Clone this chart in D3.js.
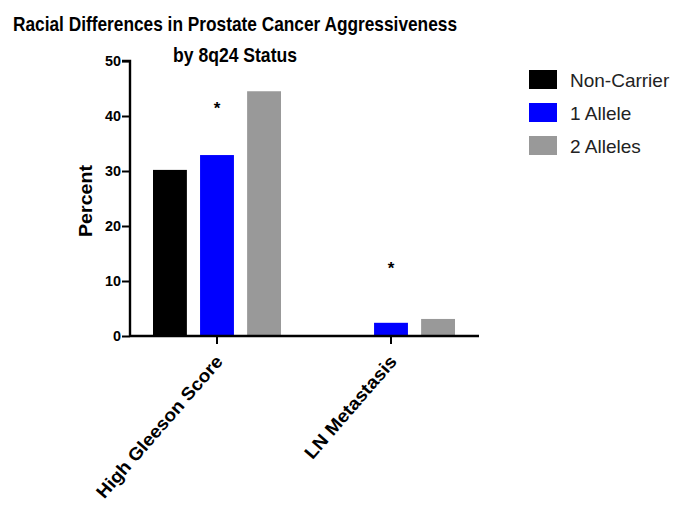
<!DOCTYPE html>
<html><head><meta charset="utf-8">
<script src="https://cdn.jsdelivr.net/npm/d3@7"></script>
<style>body{margin:0;background:#fff}</style>
</head><body>
<script>
const categories = ["High Gleeson Score", "LN Metastasis"];
const seriesNames = ["Non-Carrier", "1 Allele", "2 Alleles"];
const nonCarrier = [30.2, 0];
const oneAllele = [32.9, 2.4];
const twoAlleles = [44.5, 3.1];
const starValues = [42, 13];
const yTicks = [0, 10, 20, 30, 40, 50];
const colors = ["#000000", "#0000ff", "#999999"];

const W = 675, H = 505;
const svg = d3.select("body").append("svg").attr("width", W).attr("height", H);
const font = "'Liberation Sans', Arial, sans-serif";

const x = d3.scaleBand().domain(categories).range([130, 478]).paddingInner(0).paddingOuter(0);
const y = d3.scaleLinear().domain([0, 50]).range([336, 61]);
const xs = d3.scaleBand().domain(seriesNames).range([-64, 64]).paddingInner(0.28);

const series = [nonCarrier, oneAllele, twoAlleles];
categories.forEach((c, ci) => {
  const g = svg.append("g").attr("transform", `translate(${x(c) + x.bandwidth() / 2},0)`);
  seriesNames.forEach((s, si) => {
    const v = series[si][ci];
    g.append("rect").attr("x", xs(s)).attr("width", xs.bandwidth())
      .attr("y", y(v)).attr("height", y(0) - y(v)).attr("fill", colors[si]);
  });
  g.append("text").attr("x", xs("1 Allele") + xs.bandwidth() / 2).attr("y", y(starValues[ci]) + 9)
    .attr("text-anchor", "middle").attr("font-family", font).attr("font-weight", "bold")
    .attr("font-size", 17).text("*");
});

// y axis
const ya = svg.append("g").attr("transform", "translate(130,0)")
  .call(d3.axisLeft(y).tickValues(yTicks).tickSize(8).tickPadding(1));
ya.select(".domain").attr("stroke-width", 2.4).attr("d", "M-8,61H0V337");
ya.selectAll(".tick line").attr("stroke-width", 2);
ya.selectAll(".tick text").attr("font-family", font).attr("font-weight", "bold")
  .attr("font-size", 15).attr("fill", "#000")
  .attr("textLength", d => d === 0 ? 8 : 16).attr("lengthAdjust", "spacingAndGlyphs");

// x axis
const xa = svg.append("g").attr("transform", "translate(0,336)")
  .call(d3.axisBottom(x).tickSize(8).tickSizeOuter(0));
xa.select(".domain").attr("stroke-width", 2.4).attr("d", "M130,0H479");
xa.selectAll(".tick line").attr("stroke-width", 2);
xa.selectAll(".tick text").attr("font-family", font).attr("font-weight", "bold")
  .attr("font-size", 18).attr("fill", "#000")
  .attr("text-anchor", "end").attr("dy", "0.35em")
  .attr("textLength", (d, i) => i === 0 ? 182 : 130).attr("lengthAdjust", "spacingAndGlyphs")
  .attr("transform", "translate(2,22) rotate(-49)").attr("y", 0).attr("x", 0);

// y label
svg.append("text").attr("transform", "translate(92,201) rotate(-90)")
  .attr("text-anchor", "middle").attr("font-family", font).attr("font-weight", "bold")
  .attr("font-size", 18).attr("textLength", 72).attr("lengthAdjust", "spacingAndGlyphs")
  .text("Percent");

// title
svg.append("text").attr("x", 235).attr("y", 31).attr("text-anchor", "middle")
  .attr("font-family", font).attr("font-weight", "bold").attr("font-size", 21)
  .attr("textLength", 444).attr("lengthAdjust", "spacingAndGlyphs")
  .text("Racial Differences in Prostate Cancer Aggressiveness");
svg.append("text").attr("x", 235).attr("y", 62).attr("text-anchor", "middle")
  .attr("font-family", font).attr("font-weight", "bold").attr("font-size", 21)
  .attr("textLength", 124).attr("lengthAdjust", "spacingAndGlyphs")
  .text("by 8q24 Status");

// legend
const leg = svg.append("g").attr("transform", "translate(529,70)");
seriesNames.forEach((s, i) => {
  const r = leg.append("g").attr("transform", `translate(0,${i * 33})`);
  r.append("rect").attr("width", 28).attr("height", 19).attr("fill", colors[i]);
  r.append("text").attr("x", 41).attr("y", 17).attr("font-family", font)
    .attr("font-size", 19).attr("fill", "#222").text(s);
});
</script>
</body></html>
